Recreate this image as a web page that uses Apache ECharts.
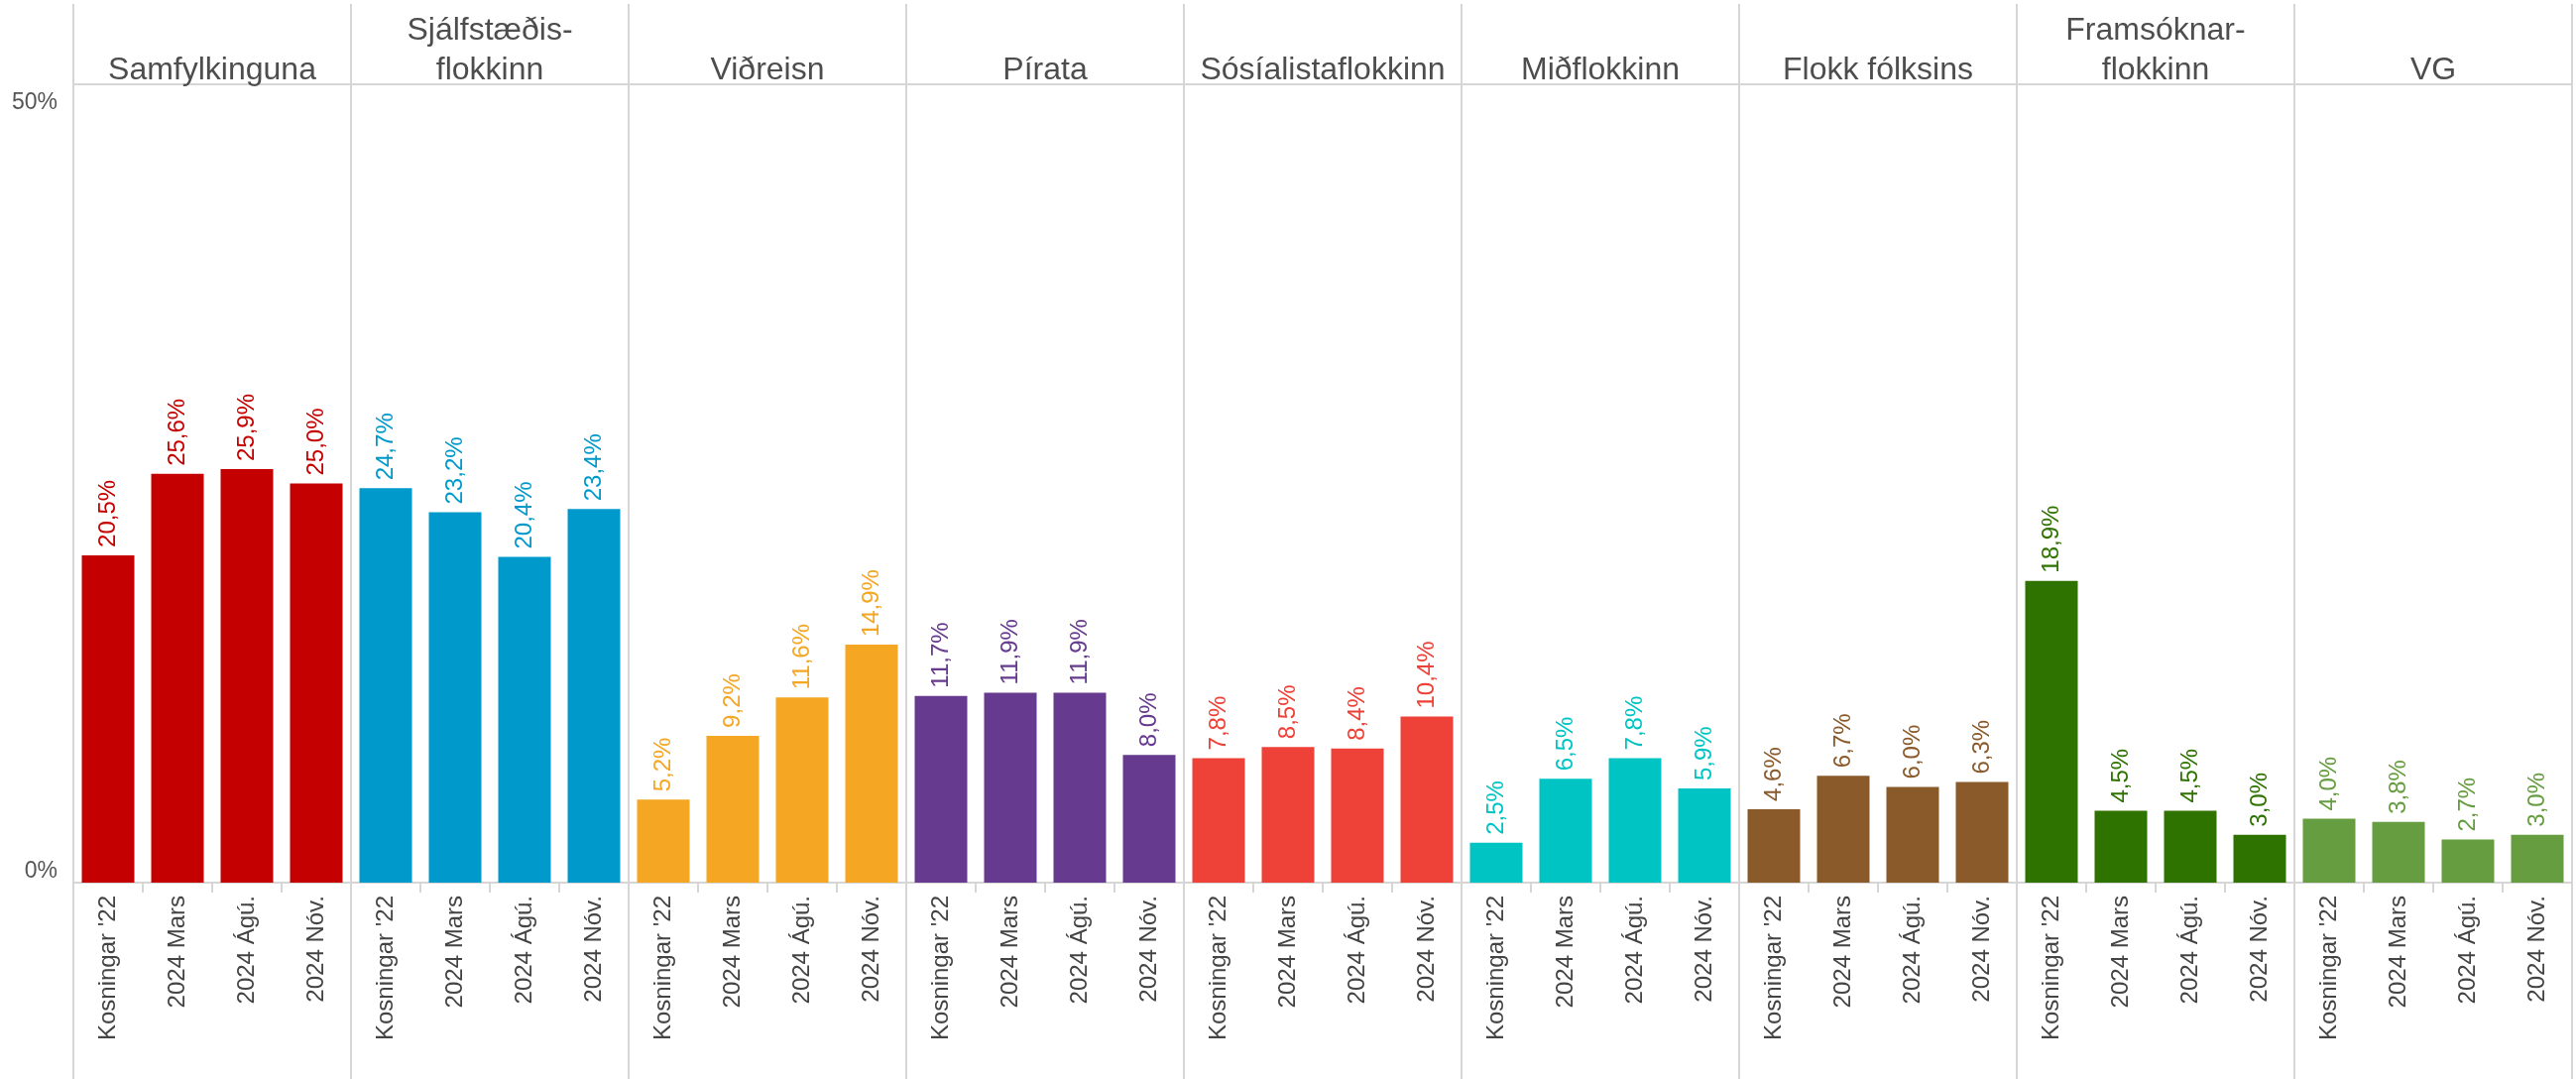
<!DOCTYPE html>
<html>
<head>
<meta charset="utf-8">
<script src="https://cdn.jsdelivr.net/npm/echarts@6/dist/echarts.min.js"></script>
<style>
  html, body { margin: 0; padding: 0; background: #fff; }
  #chart { width: 2598px; height: 1088px; }
</style>
</head>
<body>
<div id="chart"></div>
<script>
// data
const periods = ["Kosningar '22", '2024 Mars', '2024 Ágú.', '2024 Nóv.']
const parties = ['Samfylkinguna', 'Sjálfstæðis-\nflokkinn', 'Viðreisn', 'Pírata', 'Sósíalistaflokkinn',
  'Miðflokkinn', 'Flokk fólksins', 'Framsóknar-\nflokkinn', 'VG']
const samfylkingin = [20.5, 25.6, 25.9, 25.0]
const sjalfstaedis = [24.7, 23.2, 20.4, 23.4]
const vidreisn = [5.2, 9.2, 11.6, 14.9]
const piratar = [11.7, 11.9, 11.9, 8.0]
const sosialista = [7.8, 8.5, 8.4, 10.4]
const midflokkur = [2.5, 6.5, 7.8, 5.9]
const flokkFolksins = [4.6, 6.7, 6.0, 6.3]
const framsokn = [18.9, 4.5, 4.5, 3.0]
const vg = [4.0, 3.8, 2.7, 3.0]
const partyColors = ['#C50000', '#0099CC', '#F5A623', '#663A8E', '#EE4239', '#00C4C4', '#8B5A2B', '#2E7200', '#679D41']

const values = [samfylkingin, sjalfstaedis, vidreisn, piratar, sosialista, midflokkur, flokkFolksins, framsokn, vg]

// layout
const W = 2598, H = 1088
const left0 = 74, panelW = 280
const plotTop = 85, plotBottom = 890
const font = "'Liberation Sans', Arial, sans-serif"
const lineColor = '#d6d6d6'

const fmt = v => v.toFixed(1).replace('.', ',') + '%'

const grids = [], xAxes = [], yAxes = [], series = [], titles = [], graphics = []

parties.forEach((name, i) => {
  const x = left0 + i * panelW
  grids.push({ left: x, width: panelW, top: plotTop, bottom: H - plotBottom })
  xAxes.push({
    gridIndex: i,
    type: 'category',
    data: periods,
    axisLine: { show: true, lineStyle: { color: lineColor, width: 2 } },
    axisTick: { show: true, length: 10, lineStyle: { color: lineColor, width: 2 } },
    axisLabel: { rotate: 90, margin: 13, fontSize: 24, color: '#444', fontFamily: font }
  })
  yAxes.push({
    gridIndex: i,
    type: 'value',
    min: 0, max: 50, interval: 50,
    axisLine: { show: false },
    axisTick: { show: false },
    splitLine: { show: true, lineStyle: { color: lineColor, width: 2 } },
    axisLabel: i === 0
      ? { show: true, showMaxLabel: false, verticalAlign: 'bottom', margin: 16, fontSize: 23, color: '#555',
          fontFamily: font, formatter: v => v + '%' }
      : { show: false }
  })
  titles.push({
    text: name,
    left: x + panelW / 2,
    textAlign: 'center',
    bottom: H - 91,
    padding: 0,
    textStyle: { fontSize: 32, fontWeight: 'normal', color: '#4d4d4d', fontFamily: font, lineHeight: 40 }
  })
  series.push({
    type: 'bar',
    name: name,
    xAxisIndex: i,
    yAxisIndex: i,
    data: values[i],
    barWidth: 53,
    itemStyle: { color: partyColors[i] },
    label: {
      show: true,
      position: 'top',
      rotate: 90,
      align: 'left',
      verticalAlign: 'middle',
      distance: 8,
      fontSize: 24,
      color: partyColors[i],
      fontFamily: font,
      formatter: p => fmt(p.value)
    }
  })
})

// second y axis on the first panel, only for the top label (top aligned like the original)
yAxes.push({
  gridIndex: 0,
  type: 'value',
  position: 'left',
  min: 0, max: 50, interval: 50,
  axisLine: { show: false },
  axisTick: { show: false },
  splitLine: { show: false },
  axisLabel: { show: true, showMinLabel: false, verticalAlign: 'top', padding: [7, 0, 0, 0], margin: 16,
    fontSize: 23, color: '#555', fontFamily: font, formatter: v => v + '%' }
})

// panel dividers running the full height
for (let i = 0; i <= parties.length; i++) {
  const x = left0 + i * panelW
  graphics.push({
    type: 'line',
    shape: { x1: x, y1: 4, x2: x, y2: H },
    style: { stroke: lineColor, lineWidth: 2 },
    z: 10
  })
}

const chart = echarts.init(document.getElementById('chart'))
chart.setOption({
  backgroundColor: '#fff',
  animation: false,
  title: titles,
  grid: grids,
  xAxis: xAxes,
  yAxis: yAxes,
  series: series,
  graphic: graphics
})
</script>
</body>
</html>
